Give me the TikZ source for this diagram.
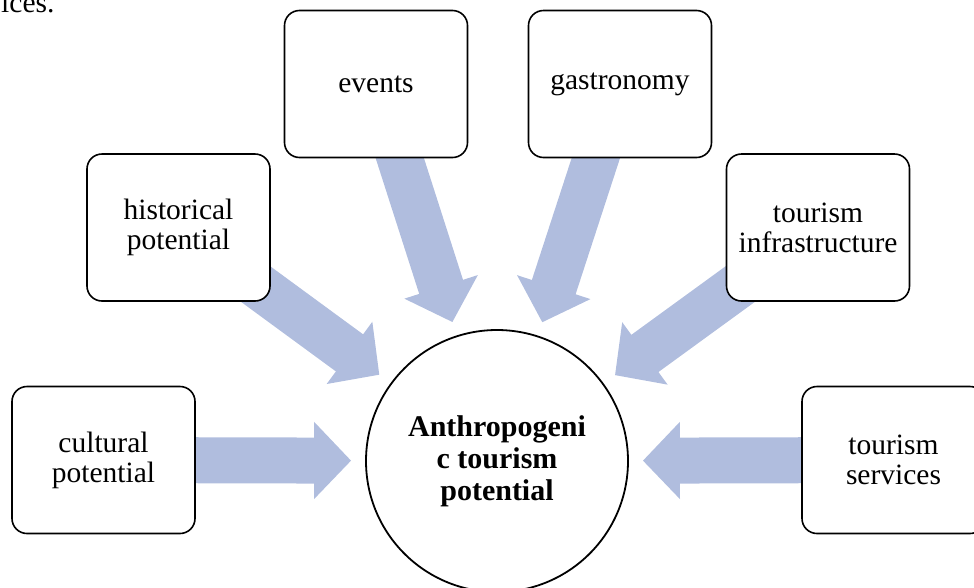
\documentclass[tikz,border=0pt]{standalone}
\usepackage{fontspec}
\setmainfont{Liberation Serif}
\usetikzlibrary{arrows.meta,backgrounds}
\definecolor{flowblue}{RGB}{176,189,222}
\begin{document}
\begin{tikzpicture} [x=1pt,y=-1pt,
    factor/.style={draw,line width=1.6pt,rounded corners=15pt,fill=white,
      minimum width=183pt,minimum height=147pt,inner sep=0pt,align=center,
      font=\fontsize{29.5}{30}\selectfont},
    core/.style={circle,draw,line width=1.8pt,minimum size=262pt,inner sep=0pt,
      align=center,font=\fontsize{30}{32}\selectfont\bfseries},
    flow/.style={flowblue,line width=46pt,-{Triangle[width=75pt,length=37pt]},shorten >=14pt}]
        \useasboundingbox (0,0) rectangle (974,587);
        \clip (0,0) rectangle (974,587);
        \node[anchor=base east,font=\fontsize{29.5}{30}\selectfont] (cut) at (58,12) {ices.};
        \node[core] (atp) at (497,461) {Anthropogeni\\c tourism\\potential};
        \node[factor] (cult) at (103.5,460) {cultural\\potential};
        \node[factor] (hist) at (178.5,227.5) {historical\\potential};
        \node[factor] (evnt) at (376,84) {events};
        \node[factor] (gast) at (620,84) {gastronomy};
        \node[factor] (infr) at (818,227.5) {tourism\\infrastructure};
        \node[factor] (serv) at (893.5,460) {tourism\\services};
%        arrows under the boxes
        \begin{scope}[on background layer]
        \draw [flow] (cult.center) -- (atp);
        \draw [flow] (hist.center) -- (atp);
        \draw [flow] (evnt.center) -- (atp);
        \draw [flow] (gast.center) -- (atp);
        \draw [flow] (infr.center) -- (atp);
        \draw [flow] (serv.center) -- (atp);
        \end{scope}
    \end{tikzpicture}
\end{document}
